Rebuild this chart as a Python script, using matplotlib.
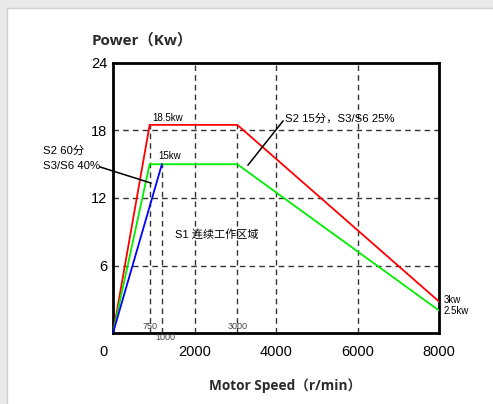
import matplotlib.pyplot as plt
from matplotlib.patches import Rectangle
import matplotlib.transforms as mtransforms

# Data (speed in r/min, power in kW)
# note: the source drawing is not to scale near the origin, so the
# "750" / "1000" marks sit where they are drawn (~900 / ~1200)
s2_speed = [0, 900, 3050, 8000]
s2_power = [0, 18.5, 18.5, 2.8]
s3_speed = [0, 900, 3050, 8000]
s3_power = [0, 15, 15, 2.0]
s1_speed = [0, 1200]
s1_power = [0, 15]

grid_full_x = [2000, 4000, 6000]
grid_part_x = [900, 1200, 3050]
grid_part_top = [18.5, 15, 18.5]
grid_y = [6, 12, 18]
x_ticks = [0, 2000, 4000, 6000, 8000]
y_ticks = [6, 12, 18, 24]
small_marks = [(900, "750", 0.56), (1290, "1000", -0.42), (3070, "3000", 0.56)]

title_font = ['Open Sans', 'Noto Sans CJK SC', 'DejaVu Sans']
latin = ['Liberation Sans', 'Noto Sans CJK SC']

fig = plt.figure(figsize=(4.93, 4.04), dpi=100)
# grey frame on top and left edge
fig.patches.append(Rectangle((0, 1 - 8 / 404), 1, 8 / 404, transform=fig.transFigure,
                             facecolor='#e9e9e9', edgecolor='none', zorder=0))
fig.patches.append(Rectangle((0, 0), 7 / 493, 1, transform=fig.transFigure,
                             facecolor='#e9e9e9', edgecolor='none', zorder=0))
fig.add_artist(plt.Line2D([7 / 493, 1], [1 - 8 / 404] * 2, transform=fig.transFigure,
                          color='#cfcfcf', lw=1))
fig.add_artist(plt.Line2D([7 / 493] * 2, [0, 1 - 8 / 404], transform=fig.transFigure,
                          color='#cfcfcf', lw=1))

ax = fig.add_axes([113 / 493, 71 / 404, 326 / 493, 270 / 404])
ax.set_xlim(0, 8000)
ax.set_ylim(0, 24)

for gx in grid_full_x:
    ax.axvline(gx, color='#333333', lw=1, dashes=(4, 3), zorder=1)
for gx, top in zip(grid_part_x, grid_part_top):
    ax.plot([gx, gx], [0, top], color='#333333', lw=1, dashes=(4, 3), zorder=1)
for gy in grid_y:
    ax.axhline(gy, color='#333333', lw=1, dashes=(4, 3), zorder=1)

ax.plot(s2_speed, s2_power, color='#ff0000', lw=1.3, zorder=3)
ax.plot(s3_speed, s3_power, color='#00ee00', lw=1.3, zorder=3)
ax.plot(s1_speed, s1_power, color='#0000ff', lw=1.3, zorder=3)

for sp in ax.spines.values():
    sp.set_linewidth(2)
    sp.set_color('black')

ax.set_xticks(x_ticks)
ax.set_yticks(y_ticks)
ax.tick_params(length=0, labelsize=10.5)
ax.tick_params(axis='x', pad=9)
ax.tick_params(axis='y', pad=4)
for lab in ax.get_xticklabels() + ax.get_yticklabels():
    lab.set_family(latin)
# the "0" sits left of the origin
first = ax.get_xticklabels()[0]
first.set_transform(first.get_transform() +
                    mtransforms.ScaledTranslation(-10 / 100, 0, fig.dpi_scale_trans))

# small labels
ax.text(957, 19.1, "18.5kw", fontsize=7, family=latin, va='center')
ax.text(1104, 15.7, "15kw", fontsize=7, family=latin, va='center')
ax.text(8123, 2.93, "3kw", fontsize=7, family=latin, va='center', clip_on=False)
ax.text(8123, 1.96, "2.5kw", fontsize=7, family=latin, va='center', clip_on=False)
for mx, mlab, my in small_marks:
    ax.text(mx, my, mlab, fontsize=6.5, family=latin, color='#444444',
            ha='center', va='center', clip_on=False)

ax.text(-1718, 16.2, "S2 60分", fontsize=8.2, family=latin, va='center', clip_on=False)
ax.text(-1718, 14.8, "S3/S6 40%", fontsize=8.2, family=latin, va='center', clip_on=False)
ax.plot([-319, 932], [14.76, 13.33], color='black', lw=1.1, clip_on=False, zorder=4)

ax.text(4221, 19.1, "S2 15分，S3/S6 25%", fontsize=8.2, family=latin, va='center')
ax.plot([4172, 3313], [18.84, 14.93], color='black', lw=1.1, zorder=4)

ax.text(2552, 8.8, "S1 连续工作区域", fontsize=8, family=latin, ha='center', va='center')

fig.text(92 / 493, 1 - 40 / 404, "Power（Kw）", fontsize=11, weight='bold',
         family=title_font, va='center', color='#2a2a2a')
fig.text(285 / 493, 1 - 386 / 404, "Motor Speed（r/min）", fontsize=9.8, weight='bold',
         family=title_font, ha='center', va='center', color='#2a2a2a')

fig.savefig('out.png', dpi=100)
